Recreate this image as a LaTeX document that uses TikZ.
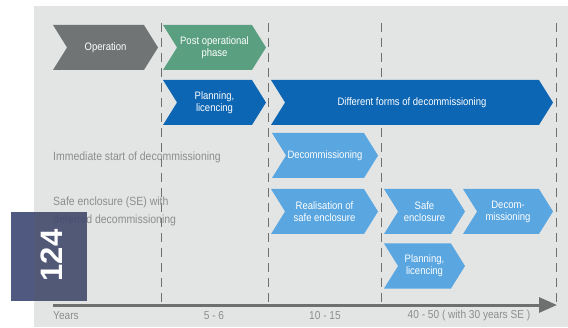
\documentclass[tikz,border=0pt]{standalone}
\usepackage{fontspec}
\setmainfont[FakeStretch=0.88]{Liberation Sans}
\newfontfamily\tabfont{Liberation Sans}
\usetikzlibrary{shapes.symbols,arrows.meta}
\definecolor{bggray}{RGB}{227,228,228}
\definecolor{opgray}{RGB}{112,116,117}
\definecolor{postgreen}{RGB}{90,160,128}
\definecolor{darkblue}{RGB}{12,102,180}
\definecolor{lightblue}{RGB}{90,166,224}
\definecolor{labelgray}{RGB}{140,142,142}
\definecolor{axisgray}{RGB}{110,112,112}
\definecolor{navy}{RGB}{66,74,108}
\definecolor{navylight}{RGB}{80,90,128}
\tikzset{
	phase/.style={signal, signal to=east, signal from=west, signal pointer angle=116,
		minimum height=45pt, inner sep=0pt, text=white, align=center,
		font=\fontsize{10.8}{12}\selectfont},
	timeline/.style={draw=axisgray, line width=1pt, dash pattern=on 9pt off 6pt},
	sidelabel/.style={anchor=west, align=left, inner sep=0pt, text=labelgray, font=\fontsize{11.9}{18}\selectfont},
	yearlabel/.style={text=labelgray, inner sep=0pt, font=\fontsize{11.5}{12}\selectfont}
}

\begin{document}
\begin{tikzpicture}[x=1pt,y=1pt]
		\useasboundingbox (0,0) rectangle (568,327);
		\fill[bggray] (34,0) rectangle (568,321);
		% time marks
		\foreach \x in {161,268,381,556}{
			\draw[timeline] (\x,304) -- (\x,22);
		}
		\coordinate (tstart) at (53,22);
		\coordinate (tend) at (557,22);
		\draw[axisgray, line width=3pt, -{Triangle[length=18pt,width=15pt]}] (tstart) -- (tend);
		% phases
		\node[phase, fill=opgray, minimum width=105pt] (operation) at (105.5,279.5) {Operation};
		\node[phase, fill=postgreen, minimum width=103pt] (postop) at (214.5,279.5) {Post operational\\phase};
		\node[phase, fill=darkblue, minimum width=103pt] (planning) at (214.5,224.5) {Planning,\\licencing};
		\node[phase, fill=darkblue, minimum width=282pt] (forms) at (412,224.5) {Different forms of decommissioning};
		\node[phase, fill=lightblue, minimum width=106pt] (decomm) at (325,171.5) {Decommissioning};
		\node[phase, fill=lightblue, minimum width=107pt] (realis) at (324.5,115.5) {Realisation of\\safe enclosure};
		\node[phase, fill=lightblue, minimum width=81pt] (safe) at (424.5,115.5) {Safe\\enclosure};
		\node[phase, fill=lightblue, minimum width=90pt] (decomsafe) at (508,115.5) {Decom-\\missioning};
		\node[phase, fill=lightblue, minimum width=81pt] (planlate) at (424.5,61) {Planning,\\licencing};
		% options
		\node[sidelabel] (immediate) at (53,170) {Immediate start of decommissioning};
		\node[sidelabel] (deferred) at (53,116) {Safe enclosure (SE) with\\deferred decommissioning};
		% years
		\node[yearlabel, anchor=west] (years) at (53,11) {Years};
		\node[yearlabel] (y1) at (214,11) {5 - 6};
		\node[yearlabel] (y2) at (325,11) {10 - 15};
		\node[yearlabel] (y3) at (469,11) {40 - 50 ( with 30 years SE )};
		% page tab
		\fill[navylight] (11,26) rectangle (34,115);
		\fill[navy, opacity=0.9] (34,26) rectangle (87,115);
		\node[rotate=90, text=white, font=\tabfont\fontsize{31}{31}\selectfont\bfseries] (page) at (52,71.5) {124};
	\end{tikzpicture}
\end{document}
